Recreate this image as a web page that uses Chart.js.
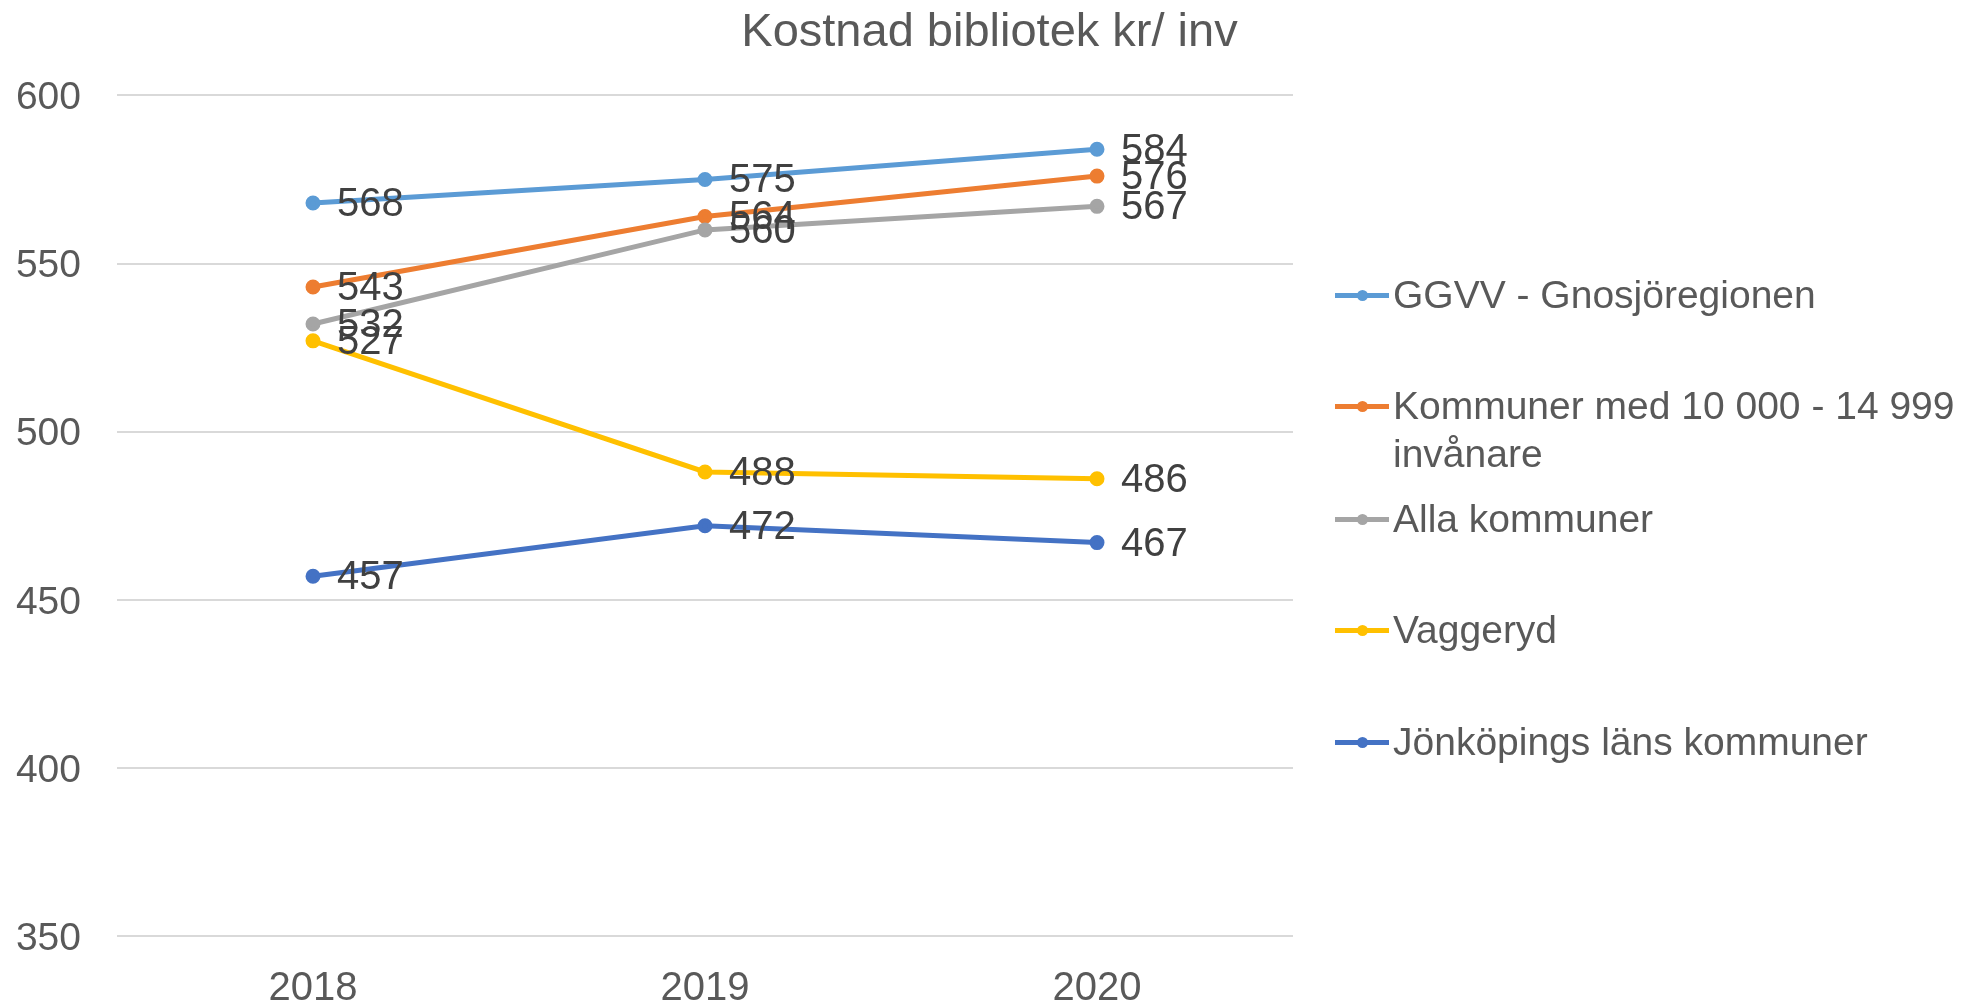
<!DOCTYPE html>
<html>
<head>
<meta charset="utf-8">
<script src="https://cdn.jsdelivr.net/npm/chart.js@4/dist/chart.umd.min.js"></script>
<style>
  html, body { margin: 0; padding: 0; background: #fff; }
  #wrap { position: relative; width: 1979px; height: 1005px; }
  #legend { position: absolute; left: 0; top: 0; }
  .item { position: absolute; left: 1335px; width: 640px; font: 39px "Liberation Sans", Arial, sans-serif; color: #595959; line-height: 48px; }
  .mark { position: absolute; left: 0; top: 22px; width: 54px; height: 5px; }
  .dot { position: absolute; left: 22px; top: -3px; width: 11px; height: 11px; border-radius: 50%; }
  .txt { margin-left: 58px; width: 580px; }
</style>
</head>
<body>
<div id="wrap">
  <canvas id="chart"></canvas>
  <div id="legend"></div>
</div>
<script>
// ---- data -------------------------------------------------------------
var years = ['2018', '2019', '2020'];
var seriesNames = ['GGVV - Gnosjöregionen', 'Kommuner med 10 000 - 14 999 invånare', 'Alla kommuner', 'Vaggeryd', 'Jönköpings läns kommuner'];
var ggvv = [568, 575, 584];
var kommuner10 = [543, 564, 576];
var allaKommuner = [532, 560, 567];
var vaggeryd = [527, 488, 486];
var jonkoping = [457, 472, 467];
var yTicks = [350, 400, 450, 500, 550, 600];

var seriesValues = [ggvv, kommuner10, allaKommuner, vaggeryd, jonkoping];
var colors = ['#5B9BD5', '#ED7D31', '#A5A5A5', '#FFC000', '#4472C4'];
var legendTops = [271, 382, 495, 606, 718];
var font = '"Liberation Sans", Arial, sans-serif';

// ---- value labels next to points ---------------------------------------
var valueLabels = {
    id: 'valueLabels',
    afterDatasetsDraw: function(chart) {
        var ctx = chart.ctx;
        ctx.save();
        ctx.font = '40px ' + font;
        ctx.fillStyle = '#404040';
        ctx.textAlign = 'left';
        ctx.textBaseline = 'middle';
        chart.data.datasets.forEach(function(ds, i) {
            chart.getDatasetMeta(i).data.forEach(function(pt, j) {
                ctx.fillText(ds.data[j], pt.x + 24, pt.y + 2);
            });
        });
        ctx.restore();
    }
};

var datasets = seriesNames.map(function(name, i) {
    return {
        label: name,
        data: seriesValues[i],
        borderColor: colors[i],
        backgroundColor: colors[i],
        pointBackgroundColor: colors[i],
        pointBorderColor: colors[i],
        borderWidth: 5,
        pointRadius: 5,
        tension: 0,
        order: seriesNames.length - i
    };
});

const ctx_chart = document.getElementById('chart').getContext('2d');
const chart = new Chart(ctx_chart, {
    type: 'line',
    data: { labels: years, datasets: datasets },
    plugins: [valueLabels],
    options: {
        responsive: true,
        maintainAspectRatio: false,
        animation: false,
        layout: { padding: 0 },
        plugins: {
            legend: { display: false },
            tooltip: { enabled: false },
            title: {
                display: true,
                text: 'Kostnad bibliotek kr/ inv',
                color: '#595959',
                font: { family: font, size: 47, weight: 'normal', lineHeight: 1.2 },
                padding: { top: 5, bottom: 34 }
            }
        },
        scales: {
            x: {
                offset: true,
                grid: { display: false },
                border: { display: false },
                ticks: { color: '#595959', font: { family: font, size: 40, lineHeight: 1.2 }, padding: 21 },
                afterFit: function(s) { s.height = 69; }
            },
            y: {
                min: 350,
                max: 600,
                afterBuildTicks: function(s) { s.ticks = yTicks.map(function(v) { return { value: v }; }); },
                grid: { color: '#D9D9D9', lineWidth: 2, drawTicks: false },
                border: { display: false },
                ticks: { color: '#595959', font: { family: font, size: 39 }, padding: 36, labelOffset: 3 },
                afterFit: function(s) { s.width = 117; }
            },
            yRight: {
                position: 'right',
                display: true,
                grid: { display: false },
                border: { display: false },
                ticks: { display: false },
                afterFit: function(s) { s.width = 686; }
            }
        }
    }
});

// ---- legend ------------------------------------------------------------
var legend = document.getElementById('legend');
seriesNames.forEach(function(name, i) {
    var item = document.createElement('div');
    item.className = 'item';
    item.style.top = legendTops[i] + 'px';
    item.innerHTML = '<div class="mark" style="background:' + colors[i] + '"><div class="dot" style="background:' + colors[i] + '"></div></div>' +
        '<div class="txt">' + name + '</div>';
    legend.appendChild(item);
});
</script>
</body>
</html>
